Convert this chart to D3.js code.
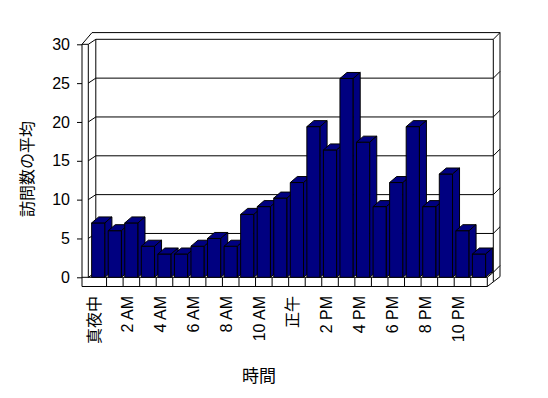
<!DOCTYPE html>
<html>
<head>
<meta charset="utf-8">
<script src="https://cdn.jsdelivr.net/npm/d3@7"></script>
<style>
    body { margin: 0; background: #fff; }
    text { font-family: "Liberation Sans", "Noto Sans CJK JP", sans-serif; fill: #000; }
</style>
</head>
<body>
<div id="chart"></div>
<script>
// chart data
const hours = ["0", "1", "2", "3", "4", "5", "6", "7", "8", "9", "10", "11",
               "12", "13", "14", "15", "16", "17", "18", "19", "20", "21", "22", "23"];
const visits = [7, 6, 7, 4, 3, 3, 4, 5, 4, 8.1, 9.1, 10.2,
                12.2, 19.4, 16.4, 25.6, 17.4, 9.1, 12.2, 19.4, 9.1, 13.3, 6, 3];
const hourLabels = ["真夜中", "2 AM", "4 AM", "6 AM", "8 AM", "10 AM",
                    "正午", "2 PM", "4 PM", "6 PM", "8 PM", "10 PM"];
const yTicks = [0, 5, 10, 15, 20, 25, 30];
const xTitle = "時間";
const yTitle = "訪問数の平均";

const width = 548;
const height = 398;

// frame geometry (front plane + depth offset)
const wallLeft = 82, wallInner = 88.3, floorRight = 487.3;
const floorTop = 277.3, floorBottom = 286.5;
const depth = {x: 7.5, y: -5};
const barDepth = {x: 7, y: -6};

const xScale = d3.scaleBand()
    .domain(hours)
    .range([90, floorRight])
    .paddingInner(0.2)
    .paddingOuter(0.1);

const yScale = d3.scaleLinear()
    .domain([0, 30])
    .range([floorTop, 44.3]);

const svg = d3.select("#chart").append("svg")
    .attr("width", width)
    .attr("height", height);

const frame = svg.append("g")
    .attr("fill", "none")
    .attr("stroke", "#000")
    .attr("stroke-width", 1);

const backLeft = wallInner + depth.x;
const backRight = 493.3;
const outerRight = 500;

// back wall with gridlines (left end runs across the side wall)
yTicks.forEach(function(t) {
    const y = yScale(t);
    frame.append("path")
        .attr("d", "M" + wallInner + "," + y + "L" + backLeft + "," + (y + depth.y)
            + "H" + backRight + "L" + outerRight + "," + (y + depth.y - 6.7));
});
frame.append("path")
    .attr("d", "M" + backLeft + "," + (yScale(30) + depth.y) + "V" + (floorTop + depth.y));
frame.append("path")
    .attr("d", "M" + backRight + "," + (yScale(30) + depth.y) + "V281.7");
frame.append("path")
    .attr("d", "M92," + (yScale(30) + depth.y - 6.7) + "H" + outerRight + "V276.7");

// left wall front face
frame.append("path")
    .attr("d", "M" + wallLeft + "," + floorBottom + "V" + yScale(30) + "H" + wallInner + "V" + floorTop);
frame.append("path")
    .attr("d", "M" + wallLeft + "," + yScale(30) + "L92," + (yScale(30) + depth.y - 6.7));

// floor front face and right side
frame.append("path")
    .attr("d", "M" + wallLeft + "," + floorTop + "H" + floorRight + "V" + floorBottom + "H" + wallLeft);
frame.append("path")
    .attr("d", "M" + floorRight + "," + floorBottom + "L" + outerRight + ",276.7");
frame.append("path")
    .attr("d", "M" + floorRight + "," + floorTop + "L" + backRight + "," + (floorTop + depth.y));

// category dividers in the floor
const step = xScale.step();
hours.slice(1).forEach(function(h, i) {
    const x = xScale.range()[0] + (i + 1) * step;
    frame.append("line")
        .attr("x1", x).attr("x2", x)
        .attr("y1", floorTop).attr("y2", floorBottom);
});

// 3d bars, drawn left to right so each covers its neighbour's side
const bw = xScale.bandwidth();
const bars = svg.append("g").selectAll(".bar")
    .data(visits)
    .enter().append("g")
        .attr("class", "bar")
        .attr("fill", "#000080")
        .attr("stroke", "#000")
        .attr("stroke-linejoin", "round");

bars.append("rect")
    .attr("x", function(d, i) { return xScale(hours[i]); })
    .attr("y", function(d) { return yScale(d); })
    .attr("width", bw)
    .attr("height", function(d) { return floorTop - yScale(d); });

bars.append("polygon")
    .attr("points", function(d, i) {
        const x = xScale(hours[i]), y = yScale(d);
        return [[x, y], [x + barDepth.x, y + barDepth.y],
                [x + bw + barDepth.x, y + barDepth.y], [x + bw, y]].join(" ");
    });

bars.append("polygon")
    .attr("points", function(d, i) {
        const x = xScale(hours[i]) + bw, y = yScale(d);
        return [[x, y], [x + barDepth.x, y + barDepth.y],
                [x + barDepth.x, floorTop + barDepth.y], [x, floorTop]].join(" ");
    });

// y axis on the front of the left wall
const yAxis = d3.axisLeft(yScale)
    .tickValues(yTicks)
    .tickSize(5)
    .tickPadding(7);

svg.append("g")
    .attr("transform", "translate(" + wallLeft + ",0)")
    .call(yAxis)
    .call(function(g) { g.select(".domain").remove(); })
    .call(function(g) {
        g.selectAll("line").attr("stroke", "#000");
        g.selectAll("text").attr("font-size", 16).attr("font-family", null);
    });

// x labels on every second hour
svg.append("g").selectAll(".x-label")
    .data(hourLabels)
    .enter().append("text")
        .attr("class", "x-label")
        .attr("font-size", 16)
        .attr("text-anchor", "end")
        .attr("dominant-baseline", "central")
        .attr("transform", function(d, i) {
            const x = xScale(hours[i * 2]) + bw / 2 - 4;
            return "translate(" + x + ",296) rotate(-90)";
        })
        .text(function(d) { return d; });

// axis titles
svg.append("text")
    .attr("x", 259)
    .attr("y", 382)
    .attr("font-size", 17)
    .attr("text-anchor", "middle")
    .text(xTitle);

svg.append("text")
    .attr("transform", "translate(27,169) rotate(-90)")
    .attr("font-size", 16)
    .attr("text-anchor", "middle")
    .attr("dominant-baseline", "central")
    .text(yTitle);
</script>
</body>
</html>
